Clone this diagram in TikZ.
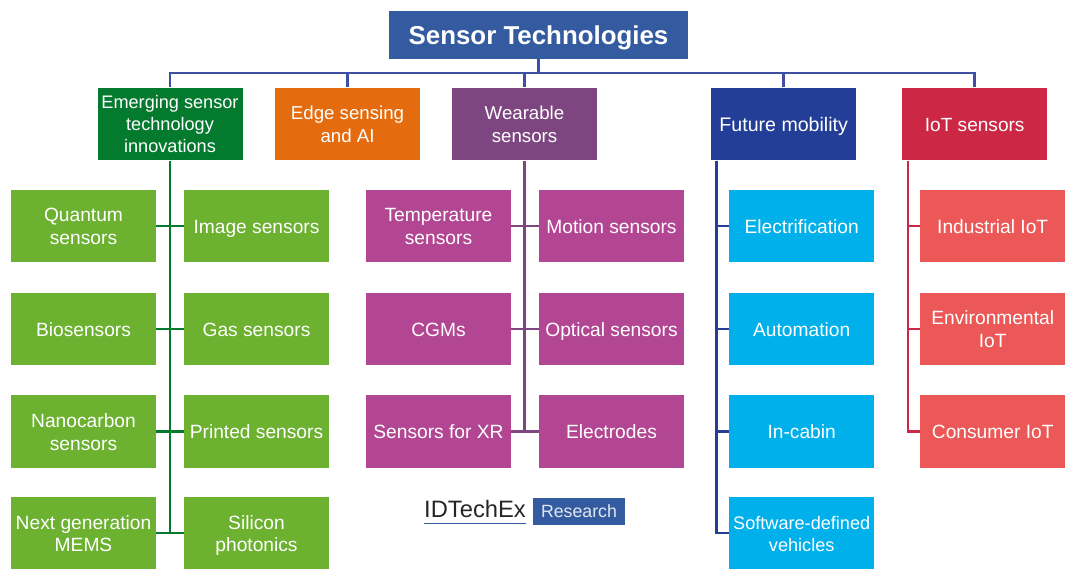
\documentclass[tikz,border=0pt]{standalone}
\usepackage{fontspec}
\setmainfont{Liberation Sans}
\usepackage{xcolor}
\usetikzlibrary{calc}
\definecolor{titleblue}{RGB}{52,91,160}
\definecolor{busblue}{RGB}{62,80,165}
\definecolor{emgreen}{RGB}{4,122,47}
\definecolor{edgeorange}{RGB}{228,108,14}
\definecolor{wearpurple}{RGB}{125,70,128}
\definecolor{futblue}{RGB}{35,62,150}
\definecolor{iotred}{RGB}{204,39,68}
\definecolor{limegreen}{RGB}{108,177,48}
\definecolor{wearmagenta}{RGB}{179,70,146}
\definecolor{skyblue}{RGB}{0,176,234}
\definecolor{coral}{RGB}{236,88,88}
\newcommand{\boxstrut}{\leavevmode\rule[-3pt]{0pt}{17pt}}
\newcommand{\tightstrut}{\leavevmode\rule[-3pt]{0pt}{15.5pt}}
\begin{document}
\begin{tikzpicture}[
    x=0.75pt,y=-0.75pt,
    box/.style={minimum width=108.75pt,minimum height=54.5pt,inner sep=0pt,align=center,text=white,font=\fontsize{14.4}{17}\selectfont},
    head/.style={box,font=\fontsize{14}{17}\selectfont},
    line/.style={line width=2pt}
]
\useasboundingbox (0,0) rectangle (1080,580);
% title and heads
\node[fill=titleblue,text=white,inner sep=0pt,minimum width=224.5pt,minimum height=36pt,font=\fontsize{19.4}{24}\selectfont\bfseries] (title) at (538.5,35) {\rule[-3pt]{0pt}{21pt}Sensor Technologies};
\node[head,fill=emgreen,font=\fontsize{13.6}{16.5}\selectfont] (emerging) at (170,124) {\tightstrut Emerging sensor\\technology\\innovations\tightstrut};
\node[head,fill=edgeorange] (edge) at (347.5,124) {\boxstrut Edge sensing\\and AI\boxstrut};
\node[head,fill=wearpurple] (wearable) at (524.5,124) {\boxstrut Wearable\\sensors\boxstrut};
\node[head,fill=futblue,font=\fontsize{14.7}{17}\selectfont] (future) at (783.7,124) {\boxstrut Future mobility};
\node[head,fill=iotred,font=\fontsize{14.3}{17}\selectfont] (iot) at (974.7,124) {\boxstrut IoT sensors};
% bus
\coordinate (bus) at (538.5,73);
\draw[line,busblue] (title.south) -- (bus);
\foreach \n in {emerging,edge,wearable,future,iot} {
    \draw[line,busblue] (\n.north) |- (bus);
}
% green group
\foreach \n/\x/\y/\t in {quantum/83.5/226/Quantum\\sensors, image/256.5/226/Image sensors,
    bio/83.5/329/Biosensors, gas/256.5/329/Gas sensors,
    nanocarbon/83.5/431.5/Nanocarbon\\sensors, printed/256.5/431.5/Printed sensors,
    mems/83.5/533/Next generation\\MEMS, silicon/256.5/533/Silicon\\photonics} {
    \node[box,fill=limegreen] (\n) at (\x,\y) {\boxstrut\t\boxstrut};
}
\draw[line,emgreen] (emerging.south) -- (emerging.south |- mems.east);
\foreach \a/\b in {quantum/image,bio/gas,nanocarbon/printed,mems/silicon} {
    \draw[line,emgreen] (\a.east) -- (\b.west);
}
% magenta group
\foreach \n/\x/\y/\t in {temp/438.5/226/Temperature\\sensors, motion/611.5/226/Motion sensors,
    cgm/438.5/329/CGMs, optical/611.5/329/Optical sensors,
    xr/438.5/431.5/Sensors for XR, electrodes/611.5/431.5/Electrodes} {
    \node[box,fill=wearmagenta] (\n) at (\x,\y) {\boxstrut\t\boxstrut};
}
\draw[line,wearpurple] (wearable.south) -- (wearable.south |- xr.east);
\foreach \a/\b in {temp/motion,cgm/optical,xr/electrodes} {
    \draw[line,wearpurple] (\a.east) -- (\b.west);
}
% future mobility
\foreach \n/\y/\t in {electrif/226/Electrification, autom/329/Automation, incabin/431.5/In-cabin} {
    \node[box,fill=skyblue] (\n) at (801.7,\y) {\boxstrut\t\boxstrut};
}
\node[box,fill=skyblue,font=\fontsize{13.6}{17}\selectfont] (software) at (801.7,533) {\boxstrut Software-defined\\vehicles\boxstrut};
\coordinate (futtrunk) at ($(future.south west)+(4.2pt,0)$);
\foreach \n in {electrif,autom,incabin,software} {
    \draw[line,futblue] (futtrunk) |- (\n.west);
}
% iot
\foreach \n/\y/\t in {industrial/226/Industrial IoT, environ/329/Environmental\\IoT, consumer/431.5/Consumer IoT} {
    \node[box,fill=coral] (\n) at (992.7,\y) {\boxstrut\t\boxstrut};
}
\coordinate (iottrunk) at ($(iot.south west)+(4.5pt,0)$);
\foreach \n in {industrial,environ,consumer} {
    \draw[line,iotred] (iottrunk) |- (\n.west);
}
% logo
\node[inner sep=0pt,text=black!85,font=\fontsize{17.8}{20}\selectfont,minimum width=76.5pt,minimum height=21pt] (idtechex) at (475,509.5) {IDTechEx};
\node[fill=titleblue,text=white!85!titleblue,inner sep=0pt,minimum width=69pt,minimum height=20.6pt,font=\fontsize{13.3}{17}\selectfont] (research) at (579,511.5) {Research};
\draw[titleblue,line width=1pt] (idtechex.south west) -- (idtechex.south east);
\end{tikzpicture}
\end{document}
